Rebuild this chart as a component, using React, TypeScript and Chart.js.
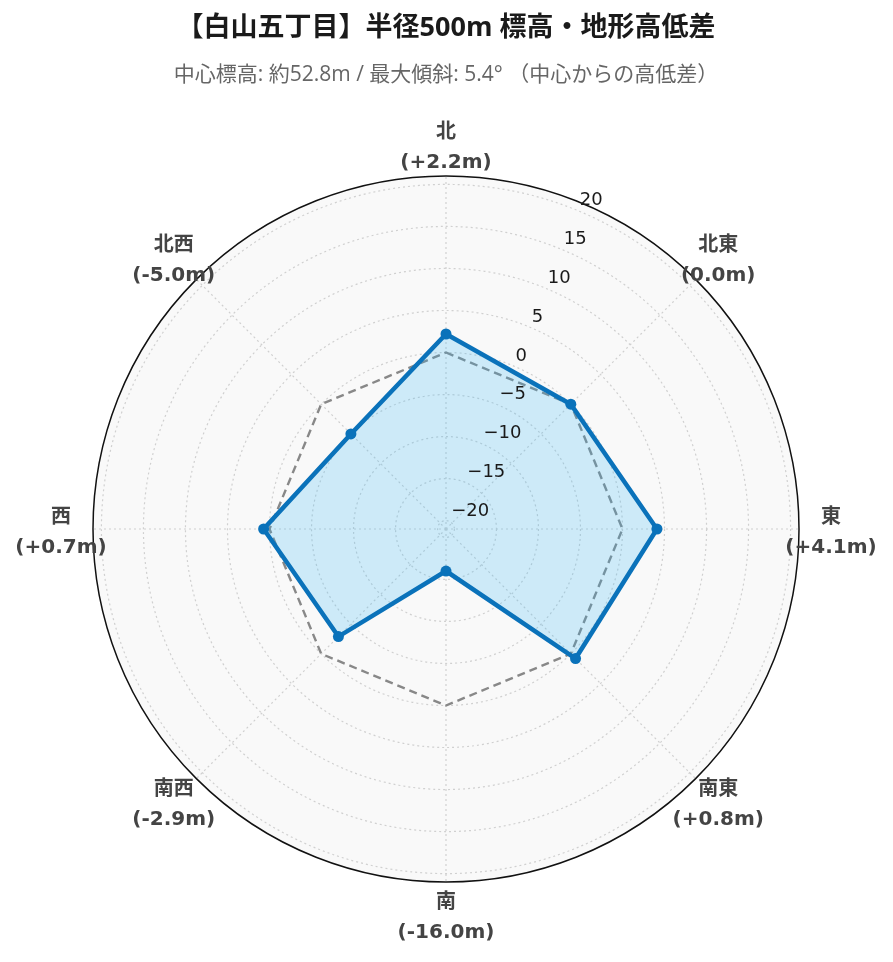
import React, { useEffect, useRef } from 'react';
import { Chart, registerables } from 'chart.js';
Chart.register(...registerables);

const directions = ['北', '北東', '東', '南東', '南', '南西', '西', '北西'];
const diffLabels = ['(+2.2m)', '(0.0m)', '(+4.1m)', '(+0.8m)', '(-16.0m)', '(-2.9m)', '(+0.7m)', '(-5.0m)'];
const elevationDiff = [2.2, 0.0, 4.1, 0.8, -16.0, -2.9, 0.7, -5.0];
const baseline = [0, 0, 0, 0, 0, 0, 0, 0];
const tickValues = [-20, -15, -10, -5, 0, 5, 10, 15, 20];
const tickLabels = ['−20', '−15', '−10', '−5', '0', '5', '10', '15', '20'];

const polarDecor = {
    id: 'polarDecor',
    beforeDraw(chart: any) {
        const r = chart.scales.r;
        const ctx = chart.ctx;
        ctx.save();
        ctx.beginPath();
        ctx.arc(r.xCenter, r.yCenter, r.drawingArea, 0, Math.PI * 2);
        ctx.fillStyle = '#f9f9f9';
        ctx.fill();
        ctx.restore();
    },
    afterDraw(chart: any) {
        const r = chart.scales.r;
        const ctx = chart.ctx;
        ctx.save();
        // outer ring
        ctx.beginPath();
        ctx.arc(r.xCenter, r.yCenter, r.drawingArea, 0, Math.PI * 2);
        ctx.strokeStyle = '#111';
        ctx.lineWidth = 1.5;
        ctx.stroke();

        // radial tick labels along a slanted axis (between N and NE)
        ctx.font = '18px "DejaVu Sans"';
        ctx.fillStyle = '#1a1a1a';
        ctx.textAlign = 'left';
        ctx.textBaseline = 'middle';
        tickValues.forEach((v, i) => {
            const p = r.getPointPosition(0.5, r.getDistanceFromCenterForValue(v));
            ctx.fillText(tickLabels[i], p.x + 2, p.y - 10);
        });

        // direction labels
        ctx.font = 'bold 20px "DejaVu Sans", "Noto Sans CJK JP"';
        ctx.fillStyle = '#444';
        ctx.textAlign = 'center';
        directions.forEach((d, i) => {
            const p = r.getPointPosition(i, r.drawingArea + 32);
            ctx.fillText(d, p.x, p.y - 11);
            ctx.fillText(diffLabels[i], p.x, p.y + 19);
        });
        ctx.restore();
    }
};

const App: React.FC = () => {
    const chartRef = useRef<HTMLCanvasElement>(null);
    const chartInstance = useRef<Chart | null>(null);

    useEffect(() => {
        document.body.style.margin = '0';
        if (!chartRef.current) return;
        const ctx = chartRef.current.getContext('2d');
        if (!ctx) return;
        if (chartInstance.current) chartInstance.current.destroy();

        const fontFamily = '"Open Sans", "Noto Sans CJK JP", sans-serif';

        chartInstance.current = new Chart(ctx, {
            type: 'radar',
            data: {
                labels: directions,
                datasets: [
                    {
                        label: '高低差',
                        data: elevationDiff,
                        borderColor: '#0a72ba',
                        backgroundColor: 'rgba(50, 180, 245, 0.22)',
                        borderWidth: 4.5,
                        fill: 'start',
                        pointRadius: 5.5,
                        pointBorderWidth: 0,
                        pointBackgroundColor: '#0a72ba'
                    },
                    {
                        label: '基準 (0m)',
                        data: baseline,
                        borderColor: '#888',
                        borderWidth: 2.4,
                        borderDash: [8, 5],
                        fill: false,
                        pointRadius: 0
                    }
                ]
            },
            options: {
                animation: false,
                responsive: true,
                maintainAspectRatio: false,
                layout: { padding: { left: 93, right: 94, top: 0, bottom: 79 } },
                plugins: {
                    legend: { display: false },
                    tooltip: { enabled: false },
                    title: {
                        display: true,
                        text: '【白山五丁目】半径500m 標高・地形高低差',
                        color: '#1a1a1a',
                        font: { family: fontFamily, size: 27, weight: 'bold', lineHeight: 1.2 },
                        padding: { top: 12, bottom: 18 }
                    },
                    subtitle: {
                        display: true,
                        text: '中心標高: 約52.8m / 最大傾斜: 5.4° （中心からの高低差）',
                        color: '#666',
                        font: { family: fontFamily, size: 21, lineHeight: 1.2 },
                        padding: { top: 0, bottom: 89 }
                    }
                },
                scales: {
                    r: {
                        min: -21,
                        max: 21,
                        afterBuildTicks: (scale: any) => {
                            scale.ticks = tickValues.map((v) => ({ value: v }));
                        },
                        ticks: { display: false },
                        pointLabels: { display: false },
                        grid: { circular: true, color: '#d0d0d0', lineWidth: 1.2 },
                        border: { dash: [2, 3] },
                        angleLines: { color: '#d0d0d0', lineWidth: 1.2, borderDash: [2, 3] }
                    }
                }
            },
            plugins: [polarDecor]
        });

        return () => {
            if (chartInstance.current) {
                chartInstance.current.destroy();
                chartInstance.current = null;
            }
        };
    }, []);

    return (
        <div style={{ width: 893, height: 962, position: 'relative' }}>
            <canvas ref={chartRef}></canvas>
        </div>
    );
};

export default App;
